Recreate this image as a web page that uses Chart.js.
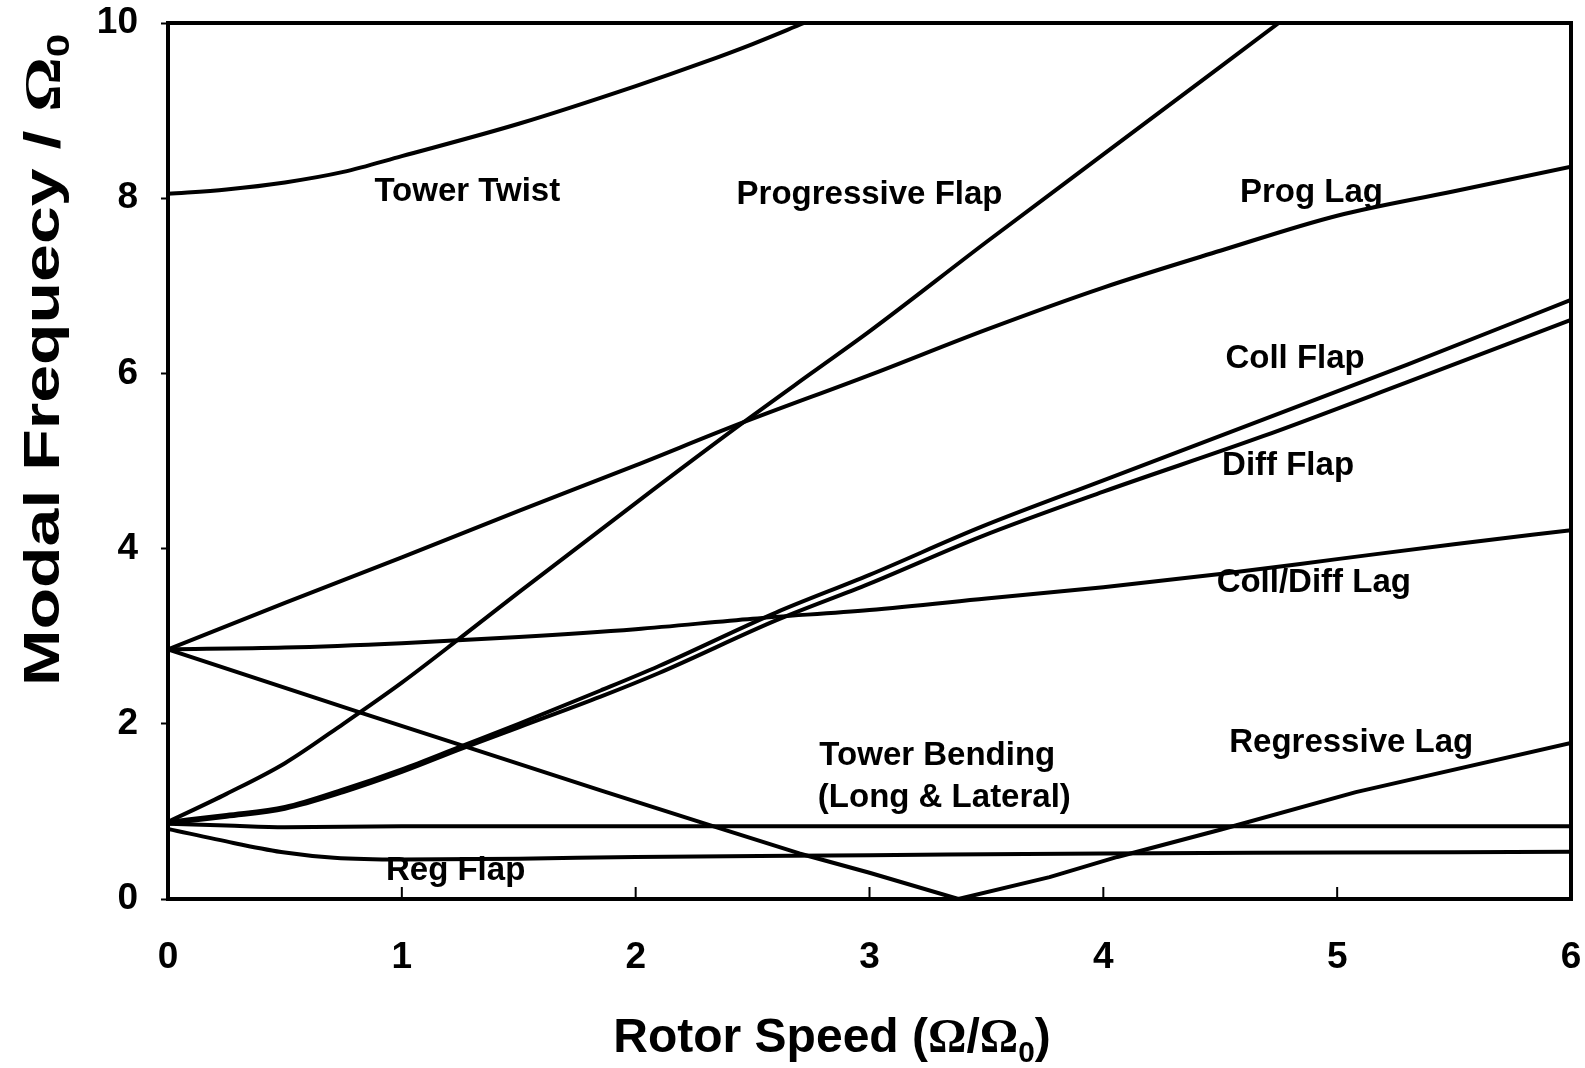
<!DOCTYPE html>
<html>
<head>
<meta charset="utf-8">
<script src="https://cdn.jsdelivr.net/npm/chart.js@4.4.1/dist/chart.umd.min.js"></script>
<style>
  html, body { margin: 0; padding: 0; background: #fff; }
  canvas { display: block; }
</style>
</head>
<body>
<canvas id="c" width="1585" height="1068"></canvas>
<script>
// Modal frequencies (normalised by nominal rotor speed) versus rotor speed ratio.
const xTicks = [0, 1, 2, 3, 4, 5, 6];
const yTicks = [0, 2, 4, 6, 8, 10];

const towerTwist = [[0, 8.05], [0.25, 8.1], [0.5, 8.18], [0.75, 8.3], [1.0, 8.48], [1.5, 8.85], [2.0, 9.28], [2.29, 9.55], [2.5, 9.76], [2.72, 10]];
const progressiveFlap = [[0, 0.88], [0.25, 1.2], [0.5, 1.55], [0.75, 2.0], [1.0, 2.47], [1.25, 2.98], [1.5, 3.5], [2.0, 4.52], [2.45, 5.42], [2.75, 6.0], [3.0, 6.48], [3.5, 7.5], [4.0, 8.5], [4.5, 9.5], [4.75, 10]];
const progLag = [[0, 2.85], [0.5, 3.38], [1.0, 3.9], [1.5, 4.43], [2.0, 4.95], [2.44, 5.42], [3.0, 5.98], [3.5, 6.5], [4.0, 6.98], [4.5, 7.4], [5.0, 7.8], [5.5, 8.08], [6, 8.36]];
const collFlap = [[0, 0.88], [0.25, 0.96], [0.5, 1.05], [0.75, 1.25], [1.0, 1.48], [1.25, 1.74], [1.5, 2.0], [1.85, 2.38], [2.1, 2.66], [2.6, 3.27], [3.0, 3.7], [3.48, 4.25], [4.0, 4.78], [4.68, 5.47], [5.3, 6.1], [6, 6.84]];
const diffFlap = [[0, 0.86], [0.25, 0.94], [0.5, 1.03], [0.75, 1.22], [1.0, 1.45], [1.25, 1.71], [1.5, 1.96], [1.85, 2.31], [2.1, 2.58], [2.6, 3.18], [3.0, 3.6], [3.48, 4.14], [4.0, 4.65], [4.68, 5.28], [5.3, 5.9], [6, 6.61]];
const collDiffLag = [[0, 2.85], [0.5, 2.87], [1.0, 2.92], [1.5, 2.99], [2.0, 3.08], [2.5, 3.2], [3.0, 3.3], [3.5, 3.43], [4.0, 3.56], [4.5, 3.71], [5.0, 3.88], [5.5, 4.05], [6, 4.21]];
const regressiveLag = [[0, 2.85], [0.82, 2.13], [1.25, 1.76], [1.85, 1.24], [2.32, 0.84], [2.7, 0.52], [3.0, 0.3], [3.38, 0], [3.77, 0.25], [4.06, 0.48], [4.5, 0.79], [5.08, 1.22], [6, 1.78]];
const towerBending = [[0, 0.86], [0.25, 0.84], [0.5, 0.82], [1.0, 0.83], [2.0, 0.83], [3.0, 0.83], [4.0, 0.83], [5.0, 0.83], [6, 0.83]];
const regFlap = [[0, 0.8], [0.28, 0.64], [0.5, 0.53], [0.71, 0.47], [1.0, 0.45], [1.5, 0.46], [2.0, 0.48], [3.0, 0.5], [4.0, 0.52], [5.0, 0.53], [6, 0.54]];

// Mode names, anchored (centre) in data units
const modeNames = ['Tower Twist', 'Progressive Flap', 'Prog Lag', 'Coll Flap', 'Diff Flap', 'Coll/Diff Lag', 'Regressive Lag', 'Tower Bending', '(Long & Lateral)', 'Reg Flap'];
const modeNameX = [1.28, 3.0, 4.89, 4.82, 4.79, 4.9, 5.06, 3.29, 3.32, 1.23];
const modeNameY = [8.07, 8.04, 8.06, 6.16, 4.94, 3.61, 1.78, 1.63, 1.15, 0.32];

const SANS = '"Liberation Sans", Arial, Helvetica, sans-serif';
const SERIF = '"Liberation Serif", "Times New Roman", serif';

function curve(points, straight) {
  return {
    data: points.map(p => ({ x: p[0], y: p[1] })),
    showLine: true,
    borderColor: '#000',
    borderWidth: 4,
    pointRadius: 0,
    fill: false,
    cubicInterpolationMode: straight ? 'default' : 'monotone',
    tension: 0,
    borderJoinStyle: 'round',
    borderCapStyle: 'round'
  };
}

// Draws a run of text pieces centred on cx; pieces marked sub are smaller and lowered.
function drawRich(ctx, pieces, size, cx, baseline, stretch) {
  const k = stretch || 1;
  const parts = pieces.map(p => {
    const s = p.sub ? size * 0.62 : size;
    const font = 'bold ' + s + 'px ' + (p.serif ? SERIF : SANS);
    ctx.font = font;
    return { text: p.text, font, w: ctx.measureText(p.text).width, dy: p.sub ? size * 0.2 : 0 };
  });
  const total = parts.reduce((a, p) => a + p.w, 0);
  ctx.save();
  ctx.translate(cx, baseline);
  ctx.scale(k, 1);
  let x = -total / 2;
  ctx.textAlign = 'left';
  ctx.textBaseline = 'alphabetic';
  for (const p of parts) {
    ctx.font = p.font;
    ctx.fillText(p.text, x, p.dy);
    x += p.w;
  }
  ctx.restore();
}

const chartDecor = {
  id: 'chartDecor',
  afterDatasetsDraw(chart) {
    const ctx = chart.ctx;
    const a = chart.chartArea;
    const xs = chart.scales.x, ys = chart.scales.y;
    ctx.save();
    ctx.fillStyle = '#000';
    ctx.strokeStyle = '#000';

    // frame
    ctx.lineWidth = 4;
    ctx.strokeRect(a.left, a.top, a.right - a.left, a.bottom - a.top);

    // x tick marks pointing into the plot
    ctx.lineWidth = 2;
    xTicks.forEach(v => {
      if (v === xTicks[0] || v === xTicks[xTicks.length - 1]) return;
      const px = xs.getPixelForValue(v);
      ctx.beginPath();
      ctx.moveTo(px, a.bottom);
      ctx.lineTo(px, a.bottom - 12);
      ctx.stroke();
    });

    // mode names
    ctx.font = 'bold 33px ' + SANS;
    ctx.textAlign = 'center';
    ctx.textBaseline = 'middle';
    modeNames.forEach((t, i) => {
      ctx.fillText(t, xs.getPixelForValue(modeNameX[i]), ys.getPixelForValue(modeNameY[i]));
    });

    // x axis title
    drawRich(ctx, [
      { text: 'Rotor Speed (' },
      { text: 'Ω', serif: true },
      { text: '/' },
      { text: 'Ω', serif: true },
      { text: '0', sub: true },
      { text: ')' }
    ], 48, 832, 1052);

    // y axis title
    ctx.save();
    ctx.translate(59, 360);
    ctx.rotate(-Math.PI / 2);
    drawRich(ctx, [
      { text: 'Modal Frequecy / ' },
      { text: 'Ω', serif: true },
      { text: '0', sub: true }
    ], 50, 0, 0, 1.36);
    ctx.restore();

    ctx.restore();
  }
};

function noOverflow(s) {
  s.paddingLeft = 0; s.paddingRight = 0; s.paddingTop = 0; s.paddingBottom = 0;
}

new Chart(document.getElementById('c'), {
  type: 'scatter',
  data: {
    datasets: [
      curve(towerTwist),
      curve(progressiveFlap),
      curve(progLag),
      curve(collFlap),
      curve(diffFlap),
      curve(collDiffLag),
      curve(regressiveLag, true),
      curve(towerBending),
      curve(regFlap)
    ]
  },
  options: {
    responsive: false,
    animation: false,
    events: [],
    layout: { padding: { top: 23, right: 14, left: 0, bottom: 0 } },
    plugins: { legend: { display: false }, tooltip: { enabled: false } },
    scales: {
      x: {
        type: 'linear',
        min: 0, max: 6,
        afterBuildTicks(s) { s.ticks = xTicks.map(v => ({ value: v })); },
        ticks: { color: '#000', font: { family: SANS, size: 37, weight: 'bold' }, padding: 37, maxRotation: 0 },
        grid: { drawOnChartArea: false, drawTicks: false },
        border: { display: false },
        afterFit(s) { s.height = 169; noOverflow(s); }
      },
      y: {
        type: 'linear',
        min: 0, max: 10,
        afterBuildTicks(s) { s.ticks = yTicks.map(v => ({ value: v })); },
        ticks: { color: '#000', font: { family: SANS, size: 37, weight: 'bold' }, padding: 23 },
        grid: { drawOnChartArea: false, drawTicks: true, tickLength: 7, tickWidth: 2, tickColor: '#000' },
        border: { display: false },
        afterFit(s) { s.width = 168; noOverflow(s); }
      }
    }
  },
  plugins: [chartDecor]
});
</script>
</body>
</html>
